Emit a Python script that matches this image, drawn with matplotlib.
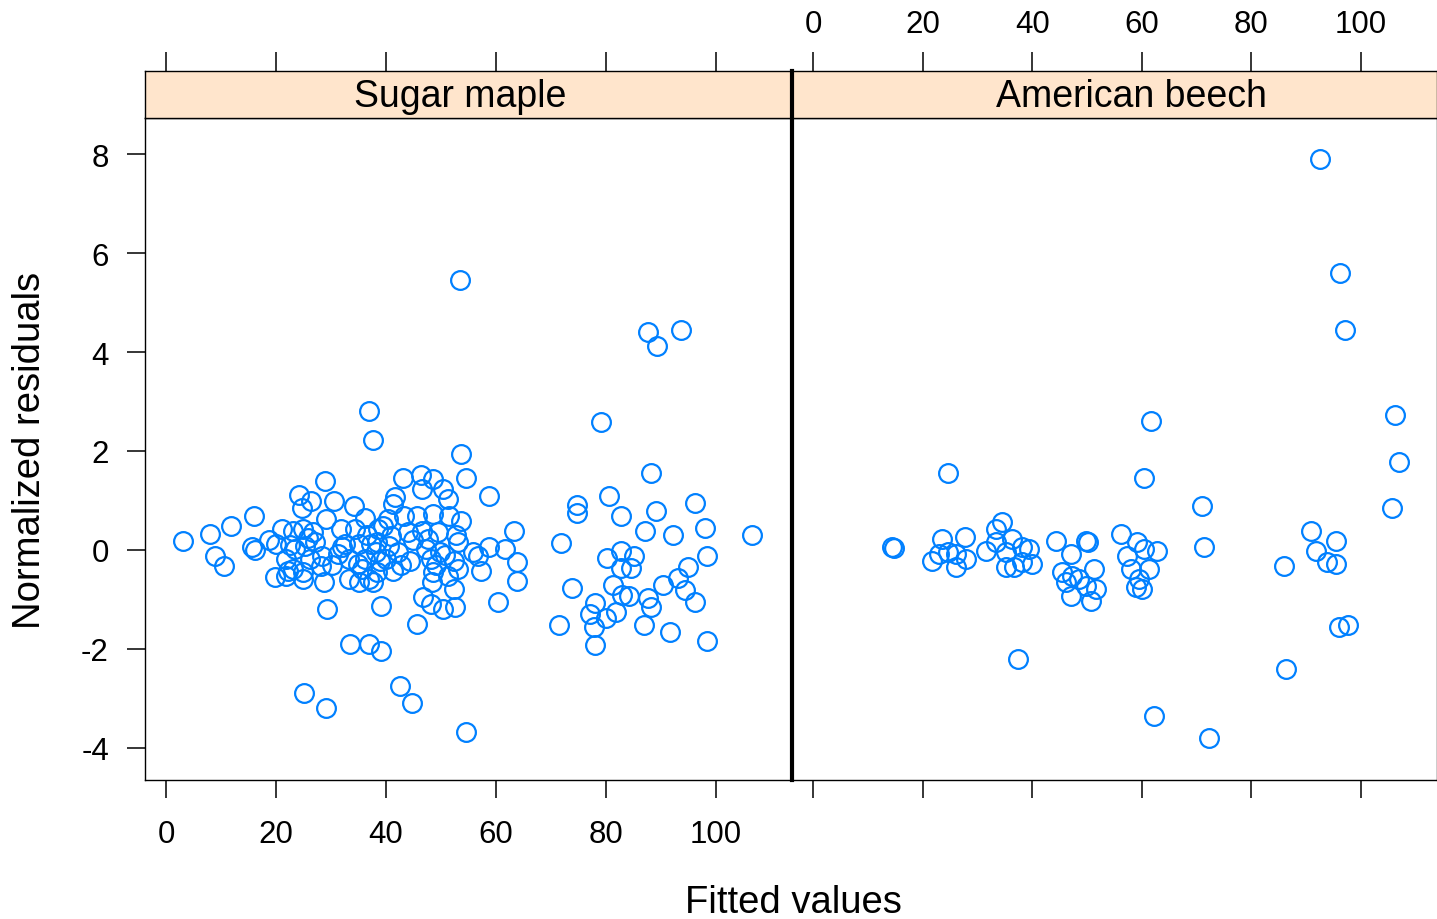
import matplotlib
matplotlib.use("Agg")
import matplotlib.pyplot as plt

plt.rcParams['font.family'] = ['Liberation Sans', 'DejaVu Sans']
plt.rcParams['axes.unicode_minus'] = False

panel_names = ["Sugar maple", "American beech"]
x_ticks = [0, 20, 40, 60, 80, 100]
y_ticks = [-4, -2, 0, 2, 4, 6, 8]

maple_fitted = [
    3.1, 8.0, 8.9, 10.4, 11.7, 15.5, 16.2, 16.0, 18.6, 20.0, 19.7, 21.1, 23.0, 21.7, 22.2,
    21.7, 23.0, 23.5, 24.2, 24.6, 24.8, 24.8, 24.8, 25.0, 25.3, 26.4, 26.6, 27.1, 28.4, 28.6,
    28.8, 29.0, 29.3, 29.1, 30.6, 31.3, 33.2, 33.2, 33.5, 34.2, 35.0, 35.0, 36.2, 36.2, 36.8,
    36.8, 37.7, 36.8, 38.1, 38.6, 39.0, 39.0, 38.4, 38.4, 37.7, 39.5, 40.8, 41.2, 41.7, 41.3,
    42.1, 43.0, 42.6, 43.2, 43.9, 44.4, 44.8, 45.7, 45.7, 46.3, 46.6, 46.6, 46.8, 47.7, 48.1,
    48.1, 48.6, 48.6, 48.6, 48.4, 49.4, 49.9, 50.3, 50.3, 51.2, 51.2, 51.4, 52.3, 52.3, 52.6,
    53.0, 53.0, 53.4, 53.6, 53.6, 54.5, 54.6, 55.9, 57.2, 58.7, 58.8, 60.3, 61.7, 63.2, 63.9,
    63.9, 31.7, 32.6, 34.4, 37.2, 35.7, 39.9, 40.3, 28.1, 26.2,
    22.5, 25.8, 30.2, 32.0, 34.8, 36.5, 38.9, 40.5, 42.8, 44.9, 47.2, 49.0, 50.8, 52.8, 56.8,
    79.2, 88.2, 80.5, 74.7, 74.7, 82.7, 89.1, 96.2, 87.2, 92.2, 98.0, 106.6, 71.9, 82.7, 80.3,
    85.1, 84.5, 82.7, 98.5, 94.9, 93.1, 90.5, 94.4, 96.2, 73.8, 81.4, 82.9, 84.2, 87.6, 88.2,
    78.1, 77.2, 81.8, 80.0, 77.8, 78.1, 71.4, 86.9, 91.6, 98.5, 87.6, 89.4, 93.6,
]
maple_resid = [
    0.18, 0.32, -0.12, -0.32, 0.48, 0.06, 0.00, 0.69, 0.20, 0.12, -0.55, 0.42, 0.38, -0.18, -0.42,
    -0.53, -0.38, 0.02, 1.11, 0.85, 0.42, -0.44, -0.59, -2.89, 0.08, 0.99, 0.36, 0.16, -0.12, -0.65,
    1.39, 0.63, -1.19, -3.19, 0.99, -0.08, -0.18, -0.59, -1.90, 0.89, 0.12, -0.65, 0.65, -0.18, -0.59,
    2.81, 2.22, -1.90, -0.04, 0.42, -1.13, -2.04, 0.16, -0.44, -0.65, 0.48, 0.28, 0.93, 1.07, -0.42,
    -0.04, 1.45, -2.75, 0.69, 0.36, -0.22, -3.09, 0.69, -1.49, 1.52, 1.23, 0.38, -0.95, 0.22, -0.18,
    -1.09, 1.43, 0.73, -0.44, -0.65, 0.36, -0.04, 1.23, -1.19, 1.03, -0.53, 0.69, -0.22, -0.79, -1.15,
    0.16, -0.38, 5.45, 1.94, 0.59, 1.45, -3.68, -0.04, -0.42, 0.06, 1.09, -1.05, 0.02, 0.38, -0.24,
    -0.63, 0.42, 0.12, 0.42, 0.12, -0.38, -0.18, 0.63, -0.32, -0.18,
    0.10, 0.24, -0.30, 0.05, -0.28, 0.30, -0.22, 0.08, -0.30, 0.20, 0.02, -0.30, -0.10, 0.30, -0.12,
    2.59, 1.56, 1.09, 0.91, 0.75, 0.69, 0.79, 0.95, 0.38, 0.30, 0.44, 0.30, 0.14, -0.02, -0.16,
    -0.12, -0.36, -0.36, -0.12, -0.34, -0.57, -0.71, -0.81, -1.05, -0.77, -0.71, -0.91, -0.93, -0.97, -1.15,
    -1.07, -1.29, -1.25, -1.37, -1.56, -1.92, -1.52, -1.52, -1.66, -1.84, 4.40, 4.12, 4.44,
]

beech_fitted = [
    14.4, 14.8, 24.5, 21.7, 23.5, 23.0, 24.5, 26.1, 27.7, 26.1, 27.9, 31.6, 34.5, 33.4, 33.4,
    36.3, 38.1, 35.2, 39.4, 40.0, 35.2, 36.7, 38.1, 37.4, 44.3, 49.8, 50.2, 47.1, 51.3, 45.4,
    47.3, 48.5, 46.2, 49.8, 51.6, 47.1, 50.7, 56.2, 59.1, 60.4, 57.3, 58.0, 61.3, 59.5, 58.9,
    60.0, 61.7, 60.4, 62.8, 62.2, 71.0, 71.4, 72.3, 90.9, 95.4, 91.8, 93.8, 95.4, 85.9, 96.0,
    97.6, 86.3, 92.5, 96.2, 97.1, 106.2, 106.9, 105.7,
]
beech_resid = [
    0.06, 0.04, 1.56, -0.22, 0.22, -0.08, -0.04, -0.08, 0.26, -0.34, -0.18, -0.02, 0.57, 0.42, 0.16,
    0.22, 0.06, -0.04, 0.02, -0.28, -0.34, -0.34, -0.24, -2.20, 0.18, 0.18, 0.16, -0.08, -0.38, -0.44,
    -0.53, -0.59, -0.65, -0.73, -0.79, -0.93, -1.03, 0.32, 0.16, 0.02, -0.12, -0.38, -0.38, -0.59, -0.75,
    -0.79, 2.61, 1.45, -0.02, -3.35, 0.89, 0.06, -3.80, 0.38, 0.18, -0.02, -0.24, -0.28, -0.32, -1.56,
    -1.52, -2.40, 7.90, 5.60, 4.44, 2.73, 1.78, 0.85,
]

W, H = 1437, 920
fig = plt.figure(figsize=(W / 100, H / 100), dpi=100)

def fx(px):
    return px / W

def fy(py):
    return 1 - py / H

xlim = (-3.9, 113.9)
ylim = (-4.65, 8.73)
point_color = "#0080ff"
strip_color = "#ffe5cc"
tick_fs = 22.5
frame_lw = 1.0

panel_px = [(145, 792), (792, 1437)]
strip_text_px = [460, 1131]
data = [(maple_fitted, maple_resid), (beech_fitted, beech_resid)]

for i, ((x0, x1), (xs, ys), name, tx) in enumerate(zip(panel_px, data, panel_names, strip_text_px)):
    ax = fig.add_axes([fx(x0), fy(781), fx(x1 - x0), fy(119) - fy(781)])
    ax.plot(xs, ys, linestyle="none", marker="o", markersize=13.5,
            markerfacecolor="none", markeredgecolor=point_color, markeredgewidth=1.6,
            clip_on=False)
    ax.set_xlim(*xlim)
    ax.set_ylim(*ylim)
    for sp in ax.spines.values():
        sp.set_linewidth(frame_lw)
        sp.set_color("black")
    ax.set_xticks(x_ticks)
    ax.set_yticks(y_ticks)
    ax.tick_params(axis="x", direction="out", length=13, width=1.1,
                   labelsize=tick_fs, pad=15, labelbottom=(i == 0))
    if i == 0:
        ax.tick_params(axis="y", direction="out", length=13, width=1.1,
                       labelsize=tick_fs, pad=13)
    else:
        ax.tick_params(axis="y", left=False, labelleft=False)

    sax = fig.add_axes([fx(x0), fy(119), fx(x1 - x0), fy(72) - fy(119)])
    sax.set_facecolor(strip_color)
    sax.set_xlim(*xlim)
    sax.set_ylim(0, 1)
    for sp in sax.spines.values():
        sp.set_linewidth(frame_lw)
        sp.set_color("black")
    sax.set_yticks([])
    sax.set_xticks(x_ticks)
    sax.tick_params(axis="x", bottom=False, labelbottom=False, top=True,
                    labeltop=(i == 1), direction="out", length=14, width=1.1,
                    labelsize=tick_fs, pad=9)
    fig.text(fx(tx), fy(97), name, ha="center", va="center", fontsize=27)

# thick divider between the two panels
fig.add_artist(plt.Line2D([fx(792), fx(792)], [fy(781), fy(72)], color="black",
                          linewidth=3.0, transform=fig.transFigure))

fig.text(fx(30), fy(450), "Normalized residuals", rotation=90, ha="center",
         va="center", fontsize=27.5)
fig.text(fx(793), fy(903), "Fitted values", ha="center", va="center", fontsize=27.5)

fig.savefig("out.png", dpi=100, facecolor="white")
